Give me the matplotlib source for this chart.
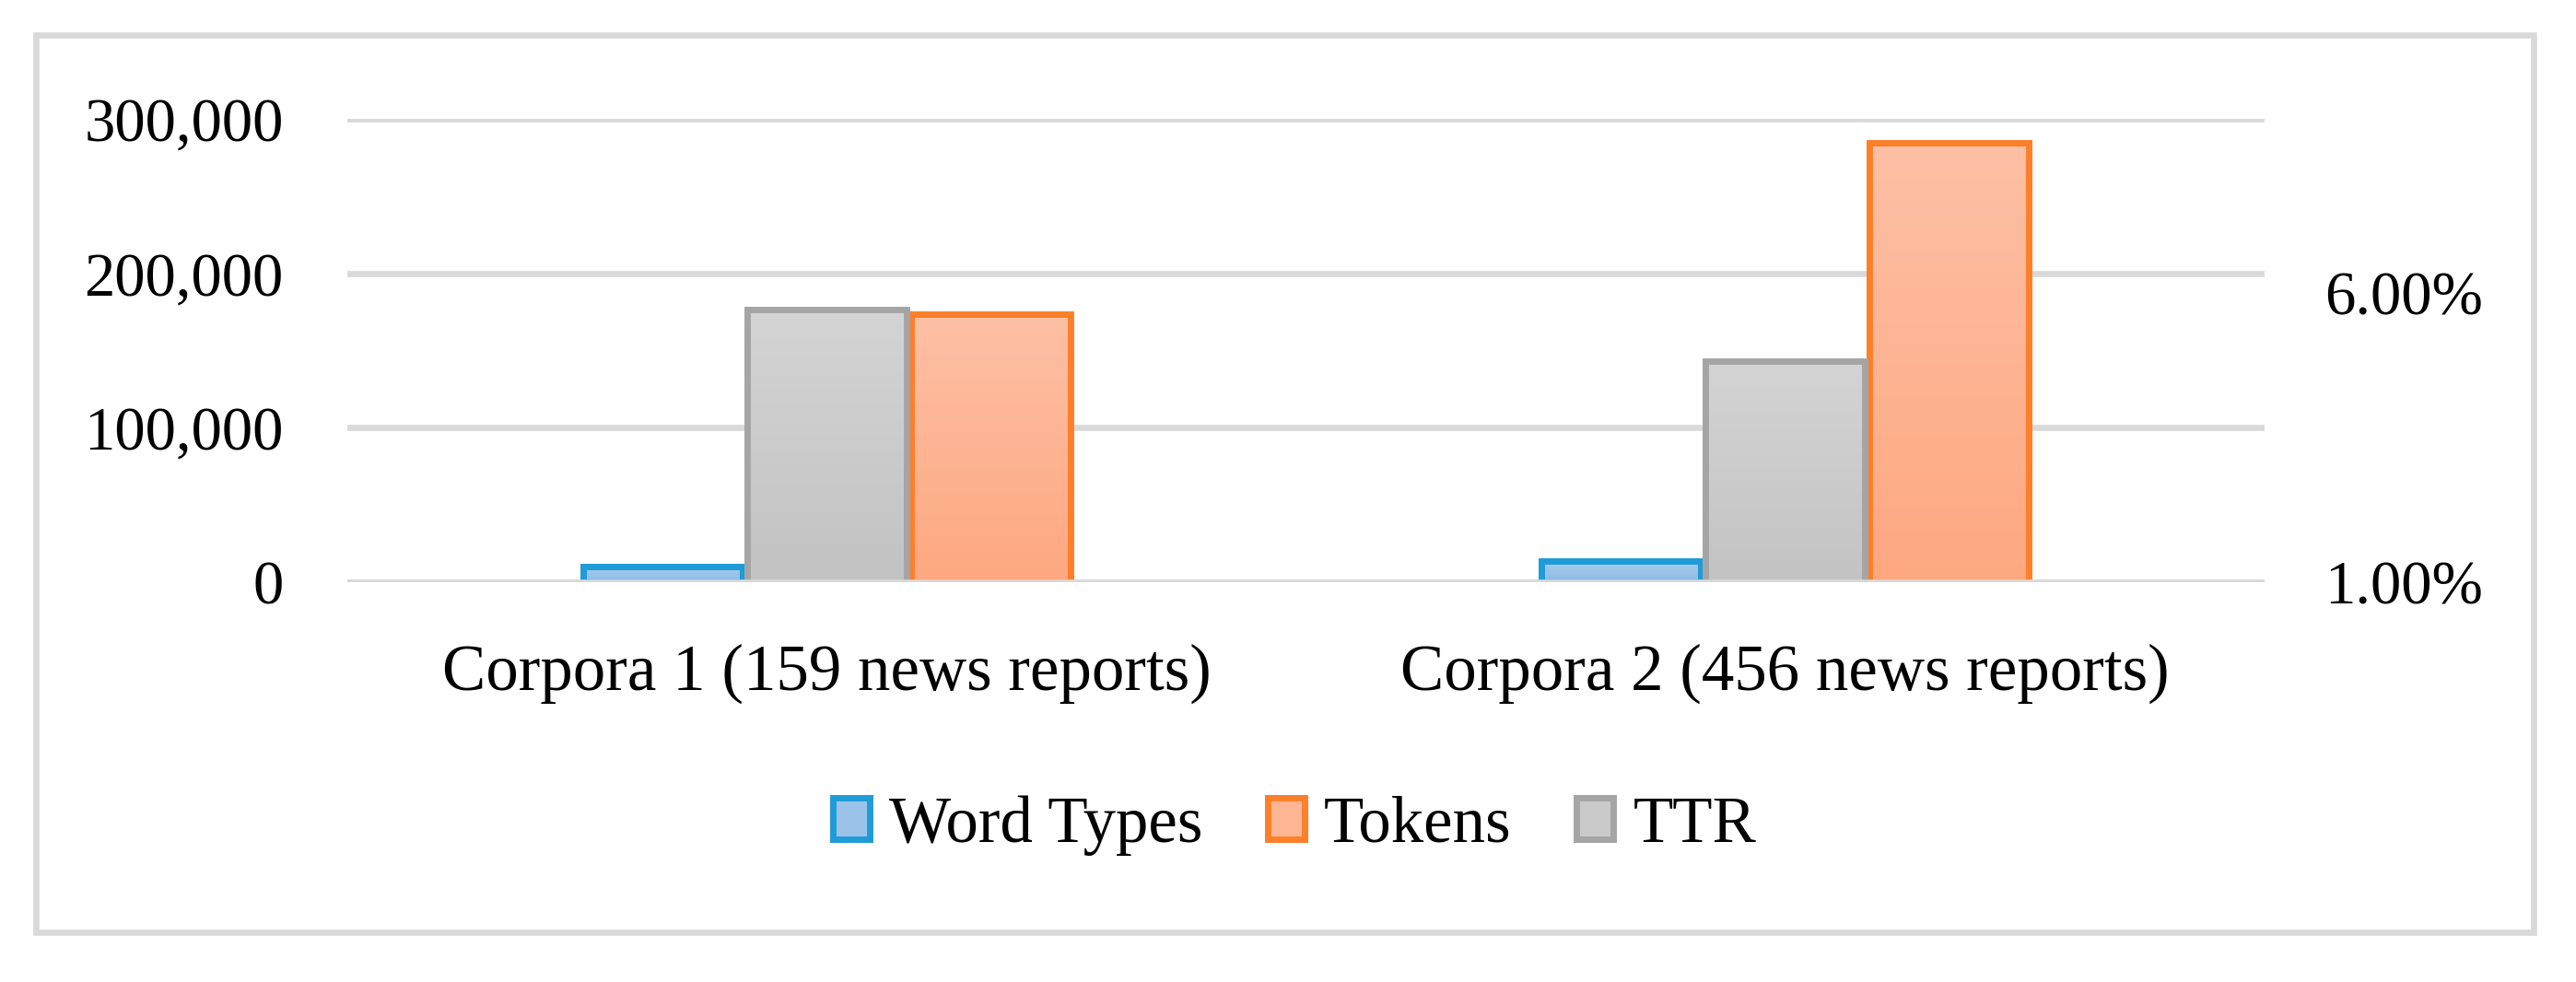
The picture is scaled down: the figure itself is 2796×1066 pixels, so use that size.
import numpy as np
import matplotlib
matplotlib.use("Agg")
import matplotlib.pyplot as plt
from matplotlib.patches import Patch, Rectangle
from matplotlib.colors import to_rgb
from matplotlib.ticker import FuncFormatter

# values
categories = ["Corpora 1 (159 news reports)", "Corpora 2 (456 news reports)"]
word_types = [9900, 13700]
tokens = [173700, 284900]
ttr = [0.0570, 0.0481]
series_names = ["Word Types", "Tokens", "TTR"]
left_ticks = [0, 100000, 200000, 300000]
right_ticks = [0.01, 0.06]

plt.rcParams['font.family'] = ['Liberation Serif', 'DejaVu Serif']

W, H = 2796, 1066
GRID = '#D9D9D9'
EDGE = {'blue': '#1F9BD7', 'orange': '#FE7F2A', 'gray': '#A5A5A5'}
FILL = {'blue': ('#A9CCEC', '#8DBBE5'),
        'orange': ('#FEC0A5', '#FDA881'),
        'gray': ('#D4D4D4', '#BFBFBF')}


def fx(px):
    return px / W


def fy(py):
    return 1 - py / H


def gradient_bars(axis, bars, top, bottom):
    """Fill each bar with a vertical gradient (light at top, darker at bottom)."""
    c0 = np.array(to_rgb(bottom))
    c1 = np.array(to_rgb(top))
    t = np.linspace(0, 1, 256)[:, None, None]
    img = c0 + (c1 - c0) * t
    for b in bars:
        x, y = b.get_x(), b.get_y()
        w, h = b.get_width(), b.get_height()
        axis.imshow(img, extent=[x, x + w, y, y + h], origin='lower',
                    aspect='auto', zorder=2.5, interpolation='bilinear')
        b.set_facecolor('none')


fig = plt.figure(figsize=(W / 100, H / 100), dpi=100)
ax = fig.add_axes([fx(377), fy(631.5), fx(2458) - fx(377), (631.5 - 129.3) / H])
ax2 = ax.twinx()

x = np.arange(len(categories))
bw = 0.166
off = 0.171

b_types = ax.bar(x - off, word_types, bw, edgecolor=EDGE['blue'], linewidth=5, zorder=3)
b_tokens = ax.bar(x + off, tokens, bw, edgecolor=EDGE['orange'], linewidth=5, zorder=3)
b_ttr = ax2.bar(x, ttr, bw, bottom=0, edgecolor=EDGE['gray'], linewidth=5, zorder=3)

gradient_bars(ax, b_types, *FILL['blue'])
gradient_bars(ax, b_tokens, *FILL['orange'])
gradient_bars(ax2, b_ttr, *FILL['gray'])

ax.set_xlim(-0.5, 1.5)
ax.set_ylim(0, 300000)
ax2.set_ylim(0.01, 0.09)

ax.set_axisbelow(True)
ax.grid(axis='y', color=GRID, linewidth=4.8)
ax.grid(axis='x', visible=False)
ax2.axhline(0.01, color=GRID, linewidth=4.8, zorder=10)

ax.set_xticks(x, categories)
ax.set_yticks(left_ticks)
ax.yaxis.set_major_formatter(FuncFormatter(lambda v, p: f"{v:,.0f}"))
ax2.set_yticks(right_ticks)
ax2.yaxis.set_major_formatter(FuncFormatter(lambda v, p: f"{v * 100:.2f}%"))

ax.tick_params(axis='x', length=0, pad=48, labelsize=51)
ax.tick_params(axis='y', length=0, pad=50, labelsize=48)
ax2.tick_params(axis='y', length=0, pad=47, labelsize=48)

for a in (ax, ax2):
    for s in a.spines.values():
        s.set_visible(False)
    a.patch.set_visible(False)

handles = [
    Patch(facecolor='#9BC3E9', edgecolor=EDGE['blue'], linewidth=5, joinstyle='round'),
    Patch(facecolor='#FEB593', edgecolor=EDGE['orange'], linewidth=5, joinstyle='round'),
    Patch(facecolor='#CACACA', edgecolor=EDGE['gray'], linewidth=5, joinstyle='round'),
]
fig.legend(handles, series_names, loc='center', bbox_to_anchor=(fx(1405), fy(896)),
           ncol=3, frameon=False, fontsize=51, handlelength=0.56, handleheight=0.6,
           handletextpad=0.3, columnspacing=1.0)

# outer chart frame
fig.add_artist(Rectangle((fx(38.5), fy(1011.5)), fx(2749.5) - fx(38.5), (1011.5 - 37.5) / H,
                         transform=fig.transFigure, fill=False, edgecolor=GRID, linewidth=4.8))

fig.savefig('out.png', dpi=100)
